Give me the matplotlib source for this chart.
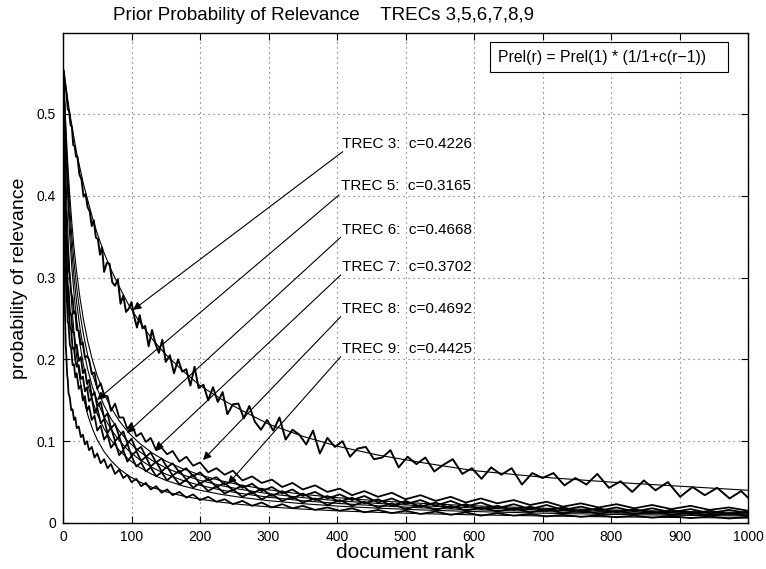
import matplotlib
matplotlib.use("Agg")
import matplotlib.pyplot as plt
from matplotlib.patches import Rectangle

plt.rcParams['font.family'] = ['Liberation Sans', 'DejaVu Sans']

# ---------------- data ----------------
trec_names = ['TREC 3', 'TREC 5', 'TREC 6', 'TREC 7', 'TREC 8', 'TREC 9']
c_labels = ['0.4226', '0.3165', '0.4668', '0.3702', '0.4692', '0.4425']

# ranks at which the TREC 3 observed curve was read
rank_t3 = [1, 3, 5, 7, 9, 11, 13, 15, 17, 19, 21, 24, 27, 30, 33, 36, 39, 42, 45, 48,
           51, 54, 57, 60, 64, 68, 72, 76, 80, 84, 88, 92, 96, 100, 104, 108, 112, 116,
           120, 125, 130, 135, 140, 145, 150, 156, 162, 168, 174, 180, 186, 192, 198,
           205, 212, 219, 226, 233, 240, 248, 256, 264, 272, 280, 289, 298, 307, 316,
           325, 335, 345, 355, 365, 375, 386, 397, 408, 419, 430, 442, 454, 466, 478,
           490, 503, 516, 529, 542, 555, 569, 583, 597, 611, 625, 640, 655, 670, 685,
           700, 716, 732, 748, 764, 780, 797, 814, 831, 848, 865, 883, 901, 919, 937,
           955, 973, 990, 1000]
obs_t3 = [.553, .538, .525, .506, .503, .487, .484, .462, .461, .448, .448, .426, .420,
          .399, .402, .386, .381, .363, .370, .349, .347, .328, .337, .307, .318, .317,
          .294, .290, .298, .268, .278, .258, .262, .270, .252, .239, .254, .238, .241,
          .216, .236, .219, .208, .224, .197, .205, .183, .200, .185, .188, .168, .191,
          .165, .169, .150, .166, .148, .160, .133, .145, .146, .128, .143, .124, .114,
          .126, .113, .129, .102, .114, .108, .096, .113, .085, .104, .093, .100, .081,
          .091, .093, .078, .080, .089, .068, .081, .072, .080, .063, .071, .078, .060,
          .067, .054, .068, .059, .067, .047, .061, .055, .061, .046, .055, .047, .060,
          .043, .051, .038, .052, .040, .050, .032, .044, .034, .043, .030, .039, .031]

# ranks at which the other observed curves were read
rank_obs = [1, 2, 3, 4, 5, 6, 7, 8, 10, 12, 14, 16, 18, 20, 23, 26, 29, 32, 35, 38,
            42, 46, 50, 55, 60, 65, 70, 76, 82, 88, 94, 100, 107, 114, 121, 128, 136,
            144, 152, 160, 170, 180, 190, 200, 212, 224, 236, 248, 262, 276, 290, 305,
            320, 335, 350, 368, 386, 404, 422, 440, 460, 480, 500, 522, 544, 566, 588,
            610, 634, 658, 682, 706, 730, 756, 782, 808, 834, 860, 888, 916, 944, 972,
            1000]
obs_a = [.52, .455, .425, .386, .371, .34, .332, .311, .302, .281, .275, .256, .258,
         .236, .235, .218, .221, .202, .204, .200, .182, .184, .164, .171, .156, .155,
         .137, .146, .129, .129, .115, .122, .106, .110, .099, .104, .089, .092, .084,
         .088, .075, .081, .070, .074, .062, .067, .059, .064, .052, .057, .049, .053,
         .044, .049, .041, .046, .038, .042, .034, .039, .032, .037, .029, .034, .027,
         .032, .025, .030, .024, .028, .022, .026, .020, .024, .019, .023, .018, .022,
         .017, .021, .016, .019, .015]
obs_b = [.48, .425, .374, .354, .325, .314, .29, .288, .259, .254, .233, .233, .214,
         .218, .198, .203, .183, .188, .17, .175, .155, .16, .142, .148, .129, .134,
         .116, .121, .106, .112, .097, .103, .089, .093, .081, .086, .074, .079, .068,
         .073, .062, .067, .057, .062, .052, .056, .047, .052, .043, .048, .039, .044,
         .036, .041, .033, .038, .030, .035, .028, .033, .025, .030, .023, .028, .021,
         .027, .020, .025, .018, .023, .017, .022, .016, .020, .015, .019, .014, .018,
         .013, .017, .012, .016, .012]
obs_c = [.46, .396, .365, .327, .306, .295, .272, .268, .24, .236, .213, .214, .199,
         .191, .193, .176, .179, .161, .166, .149, .153, .134, .141, .122, .127, .110,
         .117, .100, .106, .090, .097, .082, .088, .076, .081, .069, .075, .063, .069,
         .058, .064, .053, .059, .048, .054, .044, .049, .040, .046, .036, .042, .033,
         .039, .030, .036, .028, .033, .026, .031, .024, .029, .021, .027, .020, .025,
         .018, .023, .017, .021, .016, .020, .015, .019, .014, .018, .013, .017, .012,
         .016, .011, .015, .011, .014]
obs_d = [.44, .374, .326, .303, .276, .267, .245, .244, .218, .213, .193, .194, .178,
         .183, .164, .168, .150, .155, .137, .143, .126, .131, .113, .119, .102, .108,
         .092, .099, .083, .089, .075, .082, .069, .074, .063, .068, .057, .062, .052,
         .058, .047, .053, .043, .049, .039, .045, .036, .041, .032, .038, .029, .035,
         .027, .032, .025, .030, .022, .028, .021, .026, .019, .024, .017, .022, .016,
         .021, .015, .019, .014, .018, .013, .017, .012, .016, .011, .015, .011, .014,
         .010, .013, .009, .012, .009]
obs_e = [.40, .30, .253, .217, .203, .181, .175, .159, .153, .138, .139, .126, .129,
         .116, .118, .105, .108, .096, .100, .089, .093, .080, .085, .073, .078, .067,
         .072, .060, .065, .055, .059, .050, .054, .045, .049, .041, .045, .037, .041,
         .034, .038, .031, .035, .028, .032, .026, .029, .023, .027, .021, .025, .019,
         .023, .018, .021, .016, .019, .015, .018, .013, .016, .012, .015, .011, .014,
         .010, .013, .009, .012, .009, .011, .008, .010, .0075, .0095, .007, .009,
         .0065, .0085, .006, .008, .0055, .0075]

# ranks at which the fitted (smooth) curves were read
rank_fit = [1, 2, 3, 4, 5, 6, 8, 10, 13, 16, 20, 25, 30, 36, 43, 50, 60, 70, 82, 95,
            110, 130, 150, 175, 200, 230, 260, 300, 350, 400, 460, 530, 600, 700, 800,
            900, 1000]
fit_t3 = [.553, .547, .541, .535, .529, .523, .512, .50, .486, .471, .452, .433, .414,
          .395, .373, .354, .330, .310, .289, .268, .248, .225, .206, .186, .168, .152,
          .138, .121, .106, .094, .083, .073, .064, .056, .050, .045, .040]
fit_a = [.55, .528, .507, .488, .471, .4545, .425, .399, .366, .337, .306, .274, .248,
         .2227, .199, .1799, .1581, .1411, .1249, .1112, .0986, .0857, .0758, .0662,
         .0588, .0518, .0463, .0406, .0351, .031, .0271, .0237, .021, .0181, .0159,
         .0142, .0128]
fit_b = [.55, .525, .502, .481, .461, .4435, .412, .384, .349, .32, .2877, .2556, .23,
         .2052, .1824, .1641, .1435, .1276, .1125, .0998, .0883, .0765, .0675, .0588,
         .0521, .0459, .041, .0358, .031, .0273, .0239, .0208, .0185, .0159, .014,
         .0125, .0112]
fit_c = [.55, .521, .495, .472, .451, .431, .397, .368, .331, .301, .269, .237, .212,
         .188, .1662, .1488, .1296, .1147, .1008, .0891, .0786, .0679, .0598, .052,
         .046, .0404, .0361, .0315, .0272, .024, .021, .0183, .0162, .0139, .0122,
         .0109, .0098]
fit_d = [.55, .517, .488, .461, .438, .417, .38, .349, .311, .281, .248, .217, .1926,
         .1698, .1491, .133, .1152, .1016, .0889, .0784, .069, .0594, .0522, .0453,
         .04, .0351, .0313, .0273, .0236, .0207, .0181, .0158, .014, .012, .0105,
         .0094, .0085]
fit_e = [.55, .505, .466, .433, .404, .379, .337, .304, .264, .234, .203, .174, .1524,
         .1325, .1151, .1017, .0872, .0763, .0663, .0581, .0509, .0436, .0382, .033,
         .0291, .0255, .0226, .0197, .017, .0149, .013, .0113, .01, .0086, .0075,
         .0067, .006]

x_ticks = [0, 100, 200, 300, 400, 500, 600, 700, 800, 900, 1000]
y_ticks = [0, 0.1, 0.2, 0.3, 0.4, 0.5]

title_text = 'Prior Probability of Relevance    TRECs 3,5,6,7,8,9'
xlabel_text = 'document rank'
ylabel_text = 'probability of relevance'
legend_text = 'Prel(r) = Prel(1) * (1/1+c(r\u22121))'

# ---------------- layout (positions, not data) ----------------
label_pos = [(407.3, 0.4633), (405.8, 0.412), (407.3, 0.358),
             (407.3, 0.313), (407.3, 0.262), (407.3, 0.2127)]
arrow_from = [(408.3, 0.4539), (402.9, 0.401), (405.4, 0.3493),
              (405.4, 0.3032), (405.4, 0.2522), (405.4, 0.2033)]
arrow_to = [(102.2, 0.2604), (49.6, 0.1504), (93.4, 0.110),
            (134.3, 0.0892), (204.4, 0.077), (240.9, 0.0477)]

# ---------------- figure ----------------
fig = plt.figure(figsize=(7.66, 5.69), dpi=100)
ax = fig.add_axes([63 / 766, 46 / 569, 685 / 766, 490 / 569])

for f in [fit_t3, fit_a, fit_b, fit_c, fit_d, fit_e]:
    ax.plot(rank_fit, f, color='black', lw=0.8, zorder=3)

ax.plot(rank_t3, obs_t3, color='black', lw=1.4, zorder=4)
for o in [obs_a, obs_b, obs_c, obs_d, obs_e]:
    ax.plot(rank_obs, o, color='black', lw=1.3, zorder=4)

for name, cl, (tx, ty), p0, p1 in zip(trec_names, c_labels, label_pos, arrow_from, arrow_to):
    ax.text(tx, ty, f'{name}:  c={cl}', fontsize=11, ha='left', va='center', zorder=6)
    ax.annotate('', xy=p1, xytext=p0,
                arrowprops=dict(arrowstyle='-|>', color='black', lw=0.8,
                                mutation_scale=12, shrinkA=0, shrinkB=0),
                zorder=5)

ax.set_xlim(0, 1000)
ax.set_ylim(0, 0.599)
ax.set_xticks(x_ticks)
ax.set_xticklabels([str(v) for v in x_ticks])
ax.set_yticks(y_ticks)
ax.set_yticklabels(['0', '0.1', '0.2', '0.3', '0.4', '0.5'])
ax.tick_params(direction='in', length=5, width=0.8, top=True, right=True,
               labelsize=10, pad=5)
ax.grid(True, color='0.35', linestyle=(0, (1, 3.5)), linewidth=0.8)
for s in ax.spines.values():
    s.set_linewidth(1.0)

# formula box
ax.add_patch(Rectangle((0.6234, 0.920), 0.3474, 0.0616, transform=ax.transAxes,
                       facecolor='white', edgecolor='black', lw=0.8, zorder=7))
ax.text(0.635, 0.951, legend_text, transform=ax.transAxes, fontsize=11.3,
        ha='left', va='center', zorder=8)

fig.text(113 / 766, 1 - 15 / 569, title_text, fontsize=13.5, ha='left', va='center')
fig.text(405 / 766, 1 - 552 / 569, xlabel_text, fontsize=15, ha='center', va='center')
fig.text(20 / 766, 1 - 278 / 569, ylabel_text, fontsize=14, ha='center', va='center',
         rotation=90)

fig.savefig('out.png', dpi=100)
